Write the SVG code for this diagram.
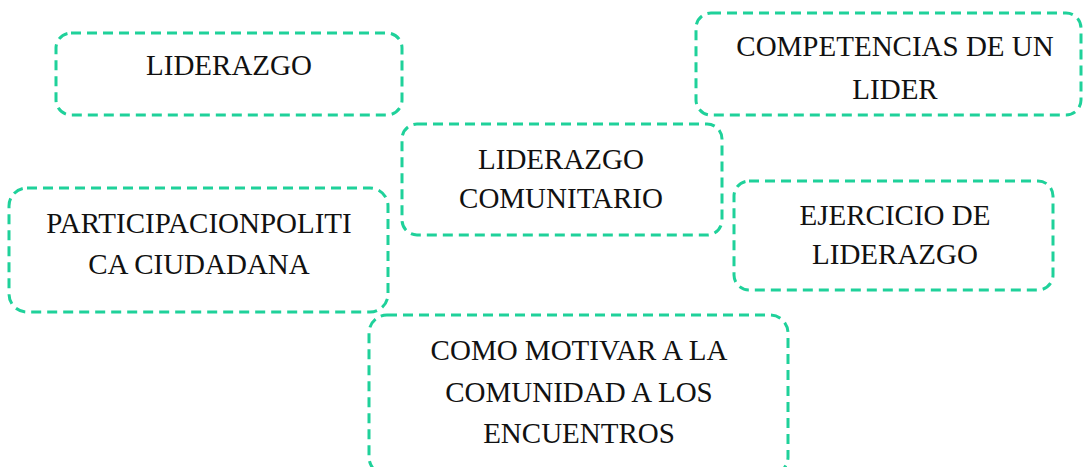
<svg xmlns="http://www.w3.org/2000/svg" width="1083" height="467" viewBox="0 0 1083 467">
<style>
.box{fill:#ffffff;stroke:#1fd19a;stroke-width:3;stroke-dasharray:10 6;}
.t{font-family:"Liberation Serif","Times New Roman",serif;font-size:29px;fill:#111111;text-anchor:middle;}
</style>
<rect width="1083" height="467" fill="#ffffff"/>
<g id="connectors"></g>
<g id="n1">
<rect class="box" x="56" y="33" width="346" height="82" rx="15"/>
<text class="t" x="229" y="75">LIDERAZGO</text>
</g>
<g id="n2">
<rect class="box" x="696" y="13" width="385" height="102" rx="15"/>
<text class="t" x="895" y="56">COMPETENCIAS DE UN</text>
<text class="t" x="895" y="99">LIDER</text>
</g>
<g id="n3">
<rect class="box" x="402" y="124" width="320" height="111" rx="15"/>
<text class="t" x="561" y="169">LIDERAZGO</text>
<text class="t" x="561" y="208">COMUNITARIO</text>
</g>
<g id="n4">
<rect class="box" x="9" y="188" width="379" height="124" rx="18"/>
<text class="t" x="199" y="233">PARTICIPACIONPOLITI</text>
<text class="t" x="199" y="274">CA CIUDADANA</text>
</g>
<g id="n5">
<rect class="box" x="734" y="181" width="319" height="109" rx="15"/>
<text class="t" x="895" y="225">EJERCICIO DE</text>
<text class="t" x="895" y="264">LIDERAZGO</text>
</g>
<g id="n6">
<rect class="box" x="369" y="315" width="419" height="160" rx="18"/>
<text class="t" x="579" y="360">COMO MOTIVAR A LA</text>
<text class="t" x="579" y="402">COMUNIDAD A LOS</text>
<text class="t" x="579" y="443">ENCUENTROS</text>
</g>
</svg>
